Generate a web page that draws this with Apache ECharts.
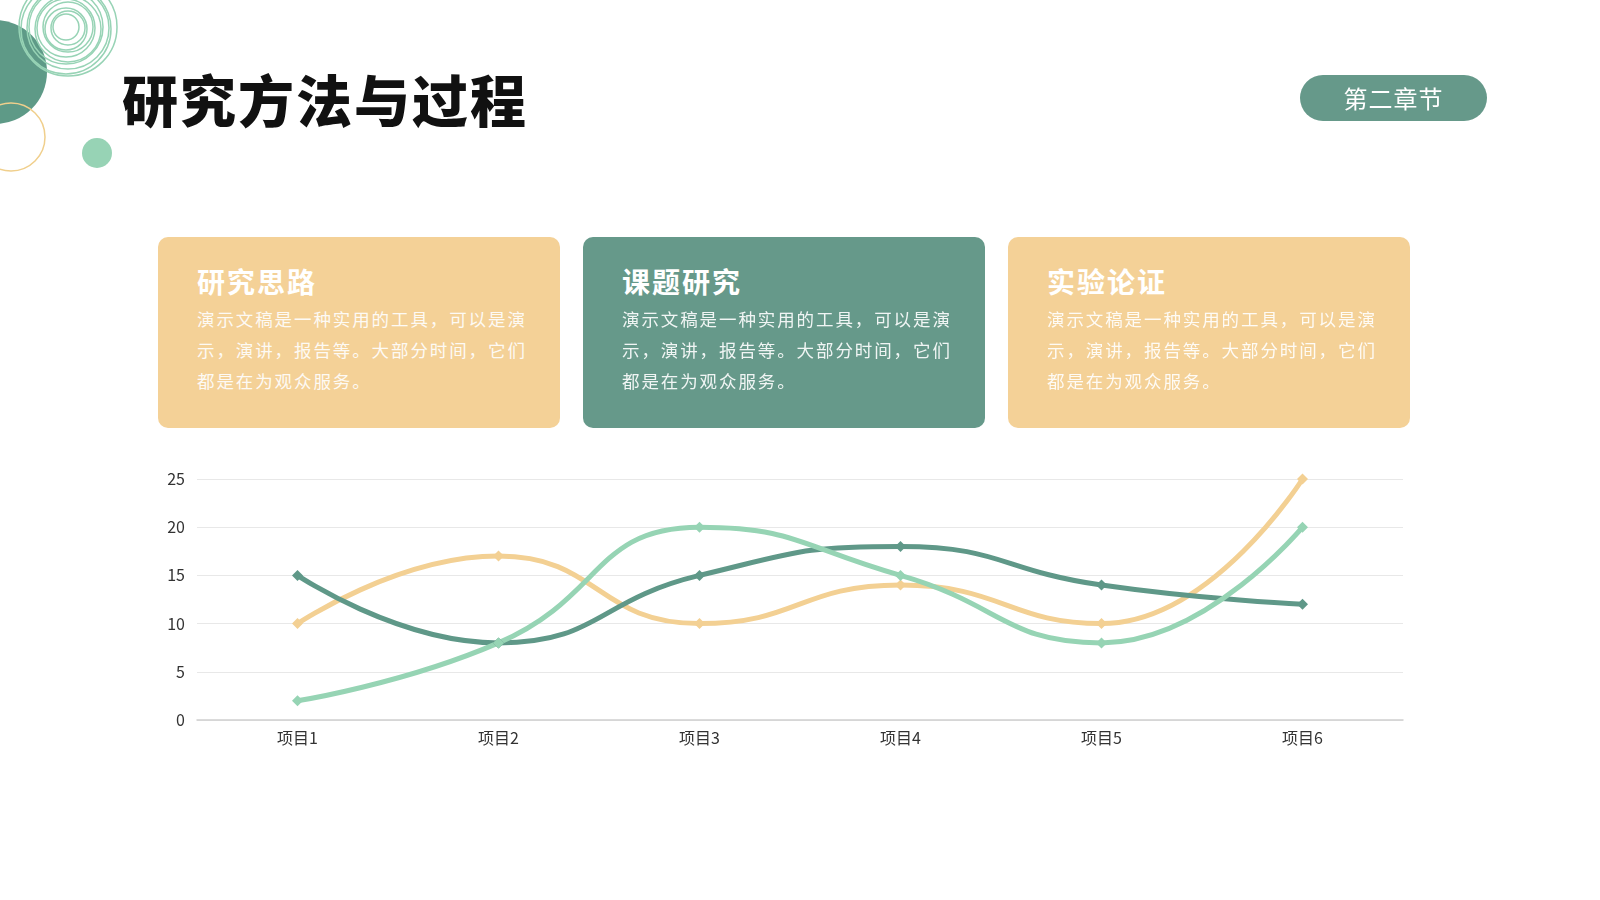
<!DOCTYPE html>
<html>
<head>
<meta charset="utf-8">
<script src="https://cdn.jsdelivr.net/npm/echarts@6/dist/echarts.min.js"></script>
<style>
  html, body { margin: 0; padding: 0; background: #fff; }
  body { width: 1600px; height: 900px; position: relative; overflow: hidden;
         font-family: "Noto Sans CJK SC", "Noto Sans", sans-serif; }
  #chartContainer { position: absolute; left: 0; top: 0; width: 1600px; height: 900px; }
  .title { position: absolute; left: 122px; top: 58px; font-size: 56px; font-weight: 900;
           letter-spacing: 2px; color: #111; line-height: 80px; }
  .badge { position: absolute; left: 1300px; top: 75px; width: 187px; height: 46px;
           border-radius: 23px; background: #66998a; color: #fff; font-size: 24px;
           line-height: 46px; text-align: center; letter-spacing: 1px; }
  .card { position: absolute; top: 237px; width: 402px; height: 191px; border-radius: 10px;
          box-sizing: border-box; padding: 22px 30px 0 39px; color: #fff; }
  .card h3 { margin: 0; font-size: 28px; font-weight: 700; letter-spacing: 2px; line-height: 44px; }
  .card p { margin: 0; font-size: 17.5px; line-height: 31px; letter-spacing: 1.9px; opacity: 0.9; }
  .orange { background: #f4d197; }
  .teal { background: #66998a; }
</style>
</head>
<body>
<div id="chartContainer"></div>
<div class="title">研究方法与过程</div>
<div class="badge">第二章节</div>
<div class="card orange" style="left:158px"><h3>研究思路</h3><p>演示文稿是一种实用的工具，可以是演示，演讲，报告等。大部分时间，它们都是在为观众服务。</p></div>
<div class="card teal" style="left:583px"><h3>课题研究</h3><p>演示文稿是一种实用的工具，可以是演示，演讲，报告等。大部分时间，它们都是在为观众服务。</p></div>
<div class="card orange" style="left:1008px"><h3>实验论证</h3><p>演示文稿是一种实用的工具，可以是演示，演讲，报告等。大部分时间，它们都是在为观众服务。</p></div>
<script>
// Chart data
const categories = ['项目1', '项目2', '项目3', '项目4', '项目5', '项目6'];
const darkSeries = [15, 8, 15, 18, 14, 12];
const orangeSeries = [10, 17, 10, 14, 10, 25];
const lightSeries = [2, 8, 20, 15, 8, 20];
const yTicks = [0, 5, 10, 15, 20, 25];

const chart = echarts.init(document.getElementById('chartContainer'));

// Decorative rings in the top-left corner
const rings = [];
[13, 17, 21, 25, 29, 33, 37, 41, 45, 49].forEach(function (r, i) {
  rings.push({
    type: 'circle',
    shape: { cx: 67 + (i % 2 ? 1 : -1), cy: 28 + (i % 3 - 1), r: r },
    style: { fill: 'none', stroke: '#97d3b5', lineWidth: 1.5 },
    z: 2
  });
});

function seriesItem(name, data, color) {
  return {
    name: name,
    type: 'line',
    data: data,
    smooth: true,
    symbol: 'diamond',
    symbolSize: 11,
    lineStyle: { width: 5, color: color },
    itemStyle: { color: color }
  };
}

const options = {
  animation: false,
  grid: { left: 197, right: 197, top: 479, bottom: 180 },
  xAxis: {
    type: 'category',
    data: categories,
    boundaryGap: true,
    axisLine: { lineStyle: { color: '#d0d0d0', width: 1.5 } },
    axisTick: { show: false },
    axisLabel: { color: '#333', fontSize: 16, margin: 10, fontFamily: 'Noto Sans CJK SC' }
  },
  yAxis: {
    type: 'value',
    min: yTicks[0],
    max: yTicks[yTicks.length - 1],
    interval: 5,
    axisLine: { show: false },
    axisTick: { show: false },
    axisLabel: { color: '#333', fontSize: 16, margin: 12, fontFamily: 'Noto Sans CJK SC' },
    splitLine: { lineStyle: { color: '#e8e8e8', width: 1.2 } }
  },
  series: [
    seriesItem('系列2', orangeSeries, '#f3d093'),
    seriesItem('系列1', darkSeries, '#5f9888'),
    seriesItem('系列3', lightSeries, '#96d4b4')
  ],
  graphic: [
    { type: 'circle', shape: { cx: -5, cy: 72, r: 52 }, style: { fill: '#5e9a87' }, z: 1 },
    { type: 'circle', shape: { cx: 11, cy: 137, r: 34 }, style: { fill: 'none', stroke: '#f0cf8c', lineWidth: 1.5 }, z: 1 },
    { type: 'circle', shape: { cx: 97, cy: 153, r: 15 }, style: { fill: '#97d3b5' }, z: 1 }
  ].concat(rings)
};

chart.setOption(options);
</script>
</body>
</html>
